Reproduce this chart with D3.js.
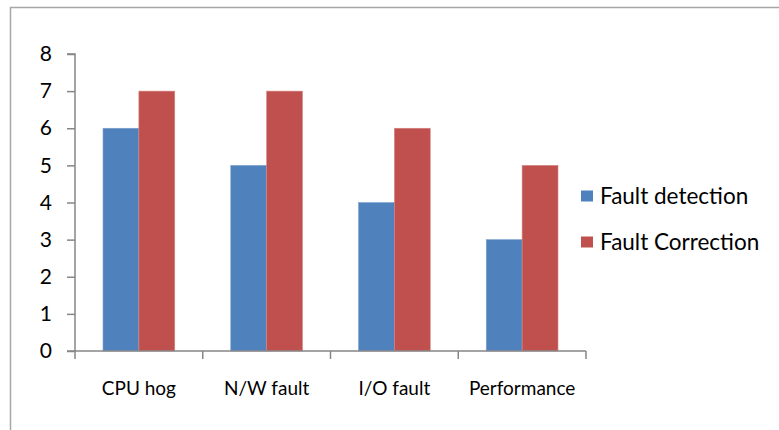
<!DOCTYPE html>
<html><head><meta charset="utf-8">
<script src="https://cdn.jsdelivr.net/npm/d3@7"></script>
<style>body{margin:0;background:#fff}svg{display:block}text{font-family:Lato,"Open Sans",sans-serif;fill:#000}</style>
</head><body><svg id="c" width="779" height="430"></svg>
<script>
const categories = ["CPU hog", "N/W fault", "I/O fault", "Performance"];
const seriesNames = ["Fault detection", "Fault Correction"];
const faultDetection = [6, 5, 4, 3];
const faultCorrection = [7, 7, 6, 5];
const yTicks = [0, 1, 2, 3, 4, 5, 6, 7, 8];
const colors = ["#4F81BD", "#C0504D"];

const svg = d3.select("#c");
// chart border
svg.append("path").attr("d","M10.5,430 V7.5 H779").attr("fill","none").attr("stroke","#a6a6a6").attr("stroke-width",1.5);

const x0 = 75, x1 = 586, yTop = 54, yBot = 351;
const x = d3.scaleBand().domain(categories).range([x0, x1]).paddingInner(0).paddingOuter(0);
const y = d3.scaleLinear().domain([0, 8]).range([yBot, yTop]);
const inner = d3.scaleBand().domain(seriesNames).range([28, x.bandwidth()-28]);

const data = categories.map((c,i)=>({c, vals:[faultDetection[i], faultCorrection[i]]}));
const g = svg.append("g");
data.forEach(d=>{
  d.vals.forEach((v,j)=>{
    g.append("rect").attr("x", x(d.c)+inner(seriesNames[j])).attr("y", y(v))
     .attr("width", inner.bandwidth()).attr("height", y(0)-y(v))
     .attr("fill", colors[j]).attr("stroke", j===0?"#7fa3d1":"#d48583").attr("stroke-width",0.6);
  });
});

// y axis
const yAxis = d3.axisLeft(y).tickValues(yTicks).tickSize(8).tickPadding(15).tickFormat(d3.format("d"));
const ya = svg.append("g").attr("transform",`translate(${x0},0)`).call(yAxis);
ya.select(".domain").attr("stroke","#868686").attr("stroke-width",1.5).attr("d",`M-8,${yTop}H0V${yBot}`);
ya.selectAll(".tick line").attr("stroke","#868686").attr("stroke-width",1.5);
ya.selectAll(".tick text").attr("font-size",21).attr("font-family","Lato").attr("fill","#000");

// x axis
const xa = svg.append("g").attr("transform",`translate(0,${yBot})`);
xa.append("line").attr("x1",x0-8).attr("x2",x1).attr("y1",0).attr("y2",0).attr("stroke","#868686").attr("stroke-width",1.5);
const bounds = categories.map(c=>x(c)).concat([x1]);
xa.selectAll("line.t").data(bounds).enter().append("line").attr("class","t")
  .attr("x1",d=>d).attr("x2",d=>d).attr("y1",0).attr("y2",8).attr("stroke","#868686").attr("stroke-width",1.5);
xa.selectAll("text").data(categories).enter().append("text")
  .attr("x",d=>x(d)+x.bandwidth()/2).attr("y",44).attr("text-anchor","middle")
  .attr("font-size",19).text(d=>d);

// legend
const lg = svg.append("g");
seriesNames.forEach((s,i)=>{
  const cy = 196 + i*46;
  lg.append("rect").attr("x",581).attr("y",cy-5.5).attr("width",12).attr("height",11).attr("fill",colors[i]);
  lg.append("text").attr("x",600).attr("y",cy).attr("dy","0.35em").attr("font-size",22.5).text(s);
});
</script></body></html>
